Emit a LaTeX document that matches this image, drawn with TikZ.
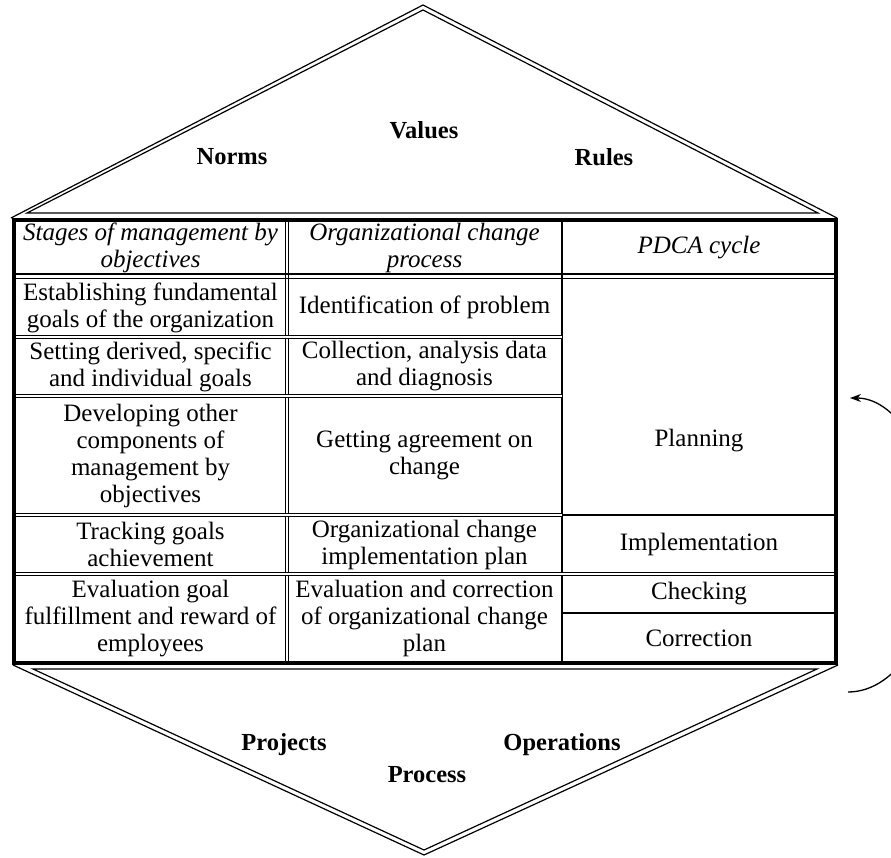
\documentclass[tikz,border=0pt]{standalone}
\usepackage{fontspec}
\setmainfont{Liberation Serif}
\usetikzlibrary{arrows.meta}
\begin{document}
\begin{tikzpicture}[x=1pt,y=-1pt,
  cell/.style={align=center,inner sep=0pt,font=\fontsize{25}{27}\selectfont},
  hcell/.style={align=center,inner sep=0pt,font=\fontsize{25}{27}\selectfont\itshape},
  lbl/.style={inner sep=0pt,font=\fontsize{24.5}{26}\selectfont\bfseries},
  hexline/.style={line width=1.2pt,line join=miter},
  border/.style={line width=3.2pt},
  dblline/.style={double,double distance=1.4pt,line width=0.9pt},
  thickline/.style={line width=2.6pt},
  thinline/.style={line width=0.9pt},
  cycarrow/.style={line width=1.3pt,-{Stealth[length=11pt,width=8pt]}}]
\useasboundingbox (0,0) rectangle (891,858);
\fill[white] (0,0) rectangle (891,858);

% top and bottom double-lined triangles
\draw[hexline] (11,218) -- (423,5) -- (837,218);
\draw[hexline] (27,213) -- (423,10) -- (818,213) -- cycle;
\draw[hexline] (13,665) -- (424,855) -- (838,665);
\draw[hexline] (33,669) -- (424,850) -- (817,669) -- cycle;

% table grid
\draw[dblline] (287,220) -- (287,663);
\draw[thickline] (562,220) -- (562,663);
\draw[line width=2pt] (14,274.5) -- (836,274.5);
\draw[thinline] (14,278) -- (836,278);
\draw[dblline] (14,337) -- (562,337);
\draw[dblline] (14,396) -- (562,396);
\draw[dblline] (14,515) -- (562,515);
\draw[thickline] (562,515) -- (836,515);
\draw[dblline] (14,574) -- (836,574);
\draw[thickline] (562,613) -- (836,613);
\draw[border] (14,220) rectangle (836,663);

% header
\node[hcell] (h1) at (150.5,248) {Stages of management by\\objectives};
\node[hcell] (h2) at (424.5,248) {Organizational change\\process};
\node[hcell] (h3) at (699,248) {PDCA cycle};
% rows
\node[cell] (a1) at (150.5,307.5) {Establishing fundamental\\goals of the organization};
\node[cell] (b1) at (424.5,307.5) {Identification of problem};
\node[cell] (a2) at (150.5,366.5) {Setting derived, specific\\and individual goals};
\node[cell] (b2) at (424.5,366.5) {Collection, analysis data\\and diagnosis};
\node[cell] (a3) at (150.5,455.5) {Developing other\\components of\\management by\\objectives};
\node[cell] (b3) at (424.5,455.5) {Getting agreement on\\change};
\node[cell] (c1) at (699,441) {Planning};
\node[cell] (a4) at (150.5,544.5) {Tracking goals\\achievement};
\node[cell] (b4) at (424.5,544.5) {Organizational change\\implementation plan};
\node[cell] (c2) at (699,544.5) {Implementation};
\node[cell] (a5) at (150.5,618.5) {Evaluation goal\\fulfillment and reward of\\employees};
\node[cell] (b5) at (424.5,618.5) {Evaluation and correction\\of organizational change\\plan};
\node[cell] (c3) at (699,593.5) {Checking};
\node[cell] (c4) at (699,638) {Correction};

% triangle labels
\node[lbl] (values) at (424,130) {Values};
\node[lbl] (norms) at (232,157) {Norms};
\node[lbl] (rules) at (604,157) {Rules};
\node[lbl] (projects) at (284,745) {Projects};
\node[lbl] (operations) at (562,745) {Operations};
\node[lbl] (process) at (427,775) {Process};

% cycle arrow
\coordinate (arrB) at (848,692);
\coordinate (arrT) at (850,398);
\begin{scope}
\clip (0,0) rectangle (891,858);
\draw[cycarrow] (arrB) .. controls (898,692) and (938,626) .. (938,545)
  .. controls (938,464) and (898,398) .. (arrT);
\end{scope}
\end{tikzpicture}
\end{document}
